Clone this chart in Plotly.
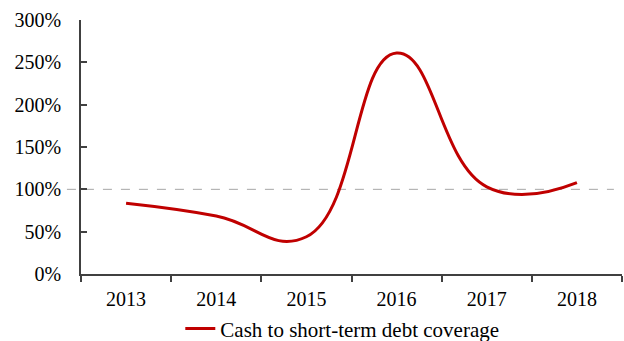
import plotly.graph_objects as go

years = ["2013", "2014", "2015", "2016", "2017", "2018"]
coverage = [0.835, 0.685, 0.44, 2.61, 1.03, 1.08]
series_name = "Cash to short-term debt coverage"
threshold = 1.0

fig = go.Figure()
fig.add_trace(go.Scatter(
    x=years, y=coverage, mode="lines", name=series_name,
    line=dict(color="#C00000", width=3, shape="spline", smoothing=1.3),
))
fig.add_shape(type="line", xref="paper", yref="y", x0=-0.026, x1=0.985,
              y0=threshold, y1=threshold,
              line=dict(color="#A6A6A6", width=1, dash="dash"), layer="below")

font = "Liberation Serif, Times New Roman, serif"
fig.update_layout(
    width=624, height=341,
    margin=dict(l=81, r=2, t=20, b=67, autoexpand=False),
    paper_bgcolor="white", plot_bgcolor="white",
    font=dict(family=font, size=20, color="#000000"),
    showlegend=True,
    legend=dict(orientation="h", x=0.483, xanchor="center", y=-0.216, yanchor="middle",
                font=dict(size=21), bgcolor="rgba(0,0,0,0)"),
    xaxis=dict(type="category", range=[-0.5, 5.5], showgrid=False, zeroline=False,
               showline=True, linecolor="#404040", linewidth=1.5,
               ticks="outside", ticklen=6, tickcolor="#404040", tickwidth=1.5,
               tickson="boundaries", ticklabelstandoff=6),
    yaxis=dict(range=[0, 3], tickvals=[0, 0.5, 1, 1.5, 2, 2.5, 3], tickformat=".0%",
               showgrid=False, zeroline=False, showline=True, linecolor="#404040",
               linewidth=1.5, ticks="inside", ticklen=6, tickcolor="#404040",
               tickwidth=1.5, ticklabelstandoff=14),
)
fig.write_html("out.html")
